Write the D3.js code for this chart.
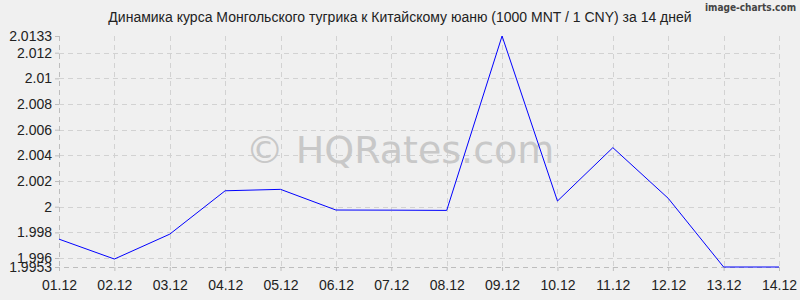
<!DOCTYPE html>
<html>
<head>
<meta charset="utf-8">
<script src="https://cdn.jsdelivr.net/npm/d3@7"></script>
<style>
  body { margin: 0; background: #f0f0f0; }
  svg { display: block; font-family: "Liberation Sans", Arial, sans-serif; }
</style>
</head>
<body>
<script>
const dates = ['01.12', '02.12', '03.12', '04.12', '05.12', '06.12', '07.12',
               '08.12', '09.12', '10.12', '11.12', '12.12', '13.12', '14.12'];
const rates = [1.99747, 1.99592, 1.99786, 2.00124, 2.00135, 1.99974, 1.99973,
               1.99971, 2.0133, 2.00044, 2.0046, 2.00065, 1.9953, 1.9953];
const yTicks = [1.9953, 1.996, 1.998, 2, 2.002, 2.004, 2.006, 2.008, 2.01, 2.012, 2.0133];
const yGrid = [1.996, 1.998, 2, 2.002, 2.004, 2.006, 2.008, 2.01, 2.012];
const title = 'Динамика курса Монгольского тугрика к Китайскому юаню (1000 MNT / 1 CNY) за 14 дней';

const width = 800, height = 300;
const margin = { top: 36, right: 21, bottom: 33, left: 59 };

const svg = d3.select('body').append('svg')
  .attr('width', width)
  .attr('height', height);

svg.append('rect').attr('width', width).attr('height', height).attr('fill', '#f0f0f0');

const x = d3.scalePoint()
  .domain(dates)
  .range([margin.left, width - margin.right]);

const y = d3.scaleLinear()
  .domain([1.9953, 2.0133])
  .range([height - margin.bottom, margin.top]);

// grid
const grid = svg.append('g')
  .attr('stroke', '#d2d2d2')
  .attr('stroke-dasharray', '5,4')
  .attr('stroke-width', 1);

grid.selectAll('.hg').data(yGrid).enter().append('line')
  .attr('x1', margin.left).attr('x2', width - margin.right)
  .attr('y1', d => Math.round(y(d)) + 0.5).attr('y2', d => Math.round(y(d)) + 0.5);

grid.selectAll('.vg').data(dates.slice(1)).enter().append('line')
  .attr('x1', d => Math.round(x(d)) + 0.5).attr('x2', d => Math.round(x(d)) + 0.5)
  .attr('y1', margin.top).attr('y2', height - margin.bottom);

// axes lines (dashed, a bit darker)
svg.append('line')
  .attr('x1', margin.left + 0.5).attr('x2', margin.left + 0.5)
  .attr('y1', margin.top).attr('y2', height - margin.bottom + 4)
  .attr('stroke', '#bdbdbd').attr('stroke-dasharray', '5,4');
svg.append('line')
  .attr('x1', margin.left - 4).attr('x2', width - margin.right)
  .attr('y1', Math.round(y(1.9953)) + 0.5).attr('y2', Math.round(y(1.9953)) + 0.5)
  .attr('stroke', '#bdbdbd').attr('stroke-dasharray', '5,4');

// watermark
svg.append('text')
  .attr('x', 400).attr('y', 163)
  .attr('text-anchor', 'middle')
  .attr('font-family', '"DejaVu Sans", sans-serif')
  .attr('font-size', 38)
  .attr('fill', '#c8c8c8')
  .text('© HQRates.com');

// y axis
const yAxis = d3.axisLeft(y).tickValues(yTicks).tickSize(4).tickFormat(d => String(d));
const gy = svg.append('g')
  .attr('transform', `translate(${margin.left},0)`)
  .call(yAxis);
gy.select('.domain').remove();
gy.selectAll('.tick line').attr('stroke', '#bdbdbd');
gy.selectAll('.tick text')
  .attr('font-size', 14).attr('fill', '#222').attr('x', -7)
  .attr('font-family', '"Liberation Sans", Arial, sans-serif');

// x axis
const xAxis = d3.axisBottom(x).tickSize(4).tickPadding(9);
const gx = svg.append('g')
  .attr('transform', `translate(0,${height - margin.bottom})`)
  .call(xAxis);
gx.select('.domain').remove();
gx.selectAll('.tick line').attr('stroke', '#bdbdbd');
gx.selectAll('.tick text')
  .attr('font-size', 14).attr('fill', '#222')
  .attr('font-family', '"Liberation Sans", Arial, sans-serif');

// line
const line = d3.line()
  .x((d, i) => x(dates[i]))
  .y(d => y(d));

svg.append('path')
  .datum(rates)
  .attr('fill', 'none')
  .attr('stroke', '#0000ff')
  .attr('stroke-width', 1)
  .attr('d', line);

// title
svg.append('text')
  .attr('x', 400).attr('y', 22)
  .attr('text-anchor', 'middle')
  .attr('font-size', 14)
  .attr('fill', '#222')
  .text(title);

svg.append('text')
  .attr('x', 796).attr('y', 11)
  .attr('text-anchor', 'end')
  .attr('font-family', '"DejaVu Sans Condensed", "DejaVu Sans", sans-serif')
  .attr('font-size', 10)
  .attr('font-weight', 'bold')
  .attr('fill', '#444')
  .text('image-charts.com');
</script>
</body>
</html>
